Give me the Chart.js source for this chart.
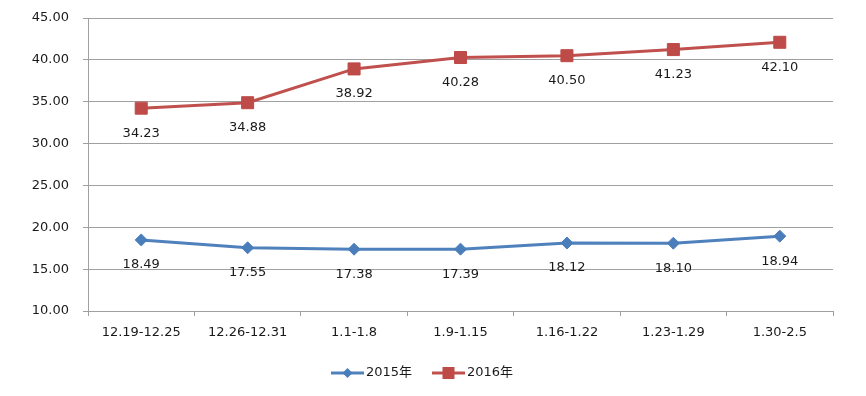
<!DOCTYPE html>
<html>
<head>
<meta charset="utf-8">
<script src="https://cdn.jsdelivr.net/npm/chart.js@4/dist/chart.umd.min.js"></script>
<style>
  html, body { margin: 0; padding: 0; background: #fff; }
  #wrap { width: 866px; height: 396px; position: relative; }
</style>
</head>
<body>
<div id="wrap"><canvas id="myChart" width="866" height="396"></canvas></div>
<script>
// week ranges on the x axis
var weeks = ['12.19-12.25', '12.26-12.31', '1.1-1.8', '1.9-1.15', '1.16-1.22', '1.23-1.29', '1.30-2.5'];
var values2015 = [18.49, 17.55, 17.38, 17.39, 18.12, 18.10, 18.94];
var values2016 = [34.23, 34.88, 38.92, 40.28, 40.50, 41.23, 42.10];
var seriesNames = ['2015年', '2016年'];
var yMin = 10, yMax = 45, yStep = 5;

var textFont = '"DejaVu Sans", Verdana, "Noto Sans CJK SC", sans-serif';
var blue = '#4a7ebb', red = '#be4b48';

// labels under every point
var valueLabels = {
    id: 'valueLabels',
    afterDatasetsDraw: function(chart) {
        var ctx = chart.ctx;
        ctx.save();
        ctx.font = '13px ' + textFont;
        ctx.fillStyle = '#1a1a1a';
        ctx.textAlign = 'center';
        ctx.textBaseline = 'middle';
        chart.data.datasets.forEach(function(ds, i) {
            chart.getDatasetMeta(i).data.forEach(function(pt, j) {
                ctx.fillText(ds.data[j].toFixed(2), pt.x, pt.y + 25);
            });
        });
        ctx.restore();
    }
};

// excel-like legend: short line with the marker in the middle
var bottomLegend = {
    id: 'bottomLegend',
    afterDraw: function(chart) {
        var ctx = chart.ctx;
        var y = 373;
        var items = [
            {x: 331, ds: chart.data.datasets[0]},
            {x: 432, ds: chart.data.datasets[1]}
        ];
        ctx.save();
        ctx.font = '13px ' + textFont;
        ctx.textBaseline = 'middle';
        items.forEach(function(it) {
            var ds = it.ds;
            ctx.strokeStyle = ds.borderColor;
            ctx.lineWidth = 3;
            ctx.beginPath();
            ctx.moveTo(it.x, y);
            ctx.lineTo(it.x + 33, y);
            ctx.stroke();
            var cx = it.x + 16.5;
            ctx.fillStyle = ds.pointBackgroundColor;
            if (ds.pointStyle === 'rectRot') {
                ctx.beginPath();
                ctx.moveTo(cx, y - 5);
                ctx.lineTo(cx + 5, y);
                ctx.lineTo(cx, y + 5);
                ctx.lineTo(cx - 5, y);
                ctx.closePath();
                ctx.fill();
            } else {
                ctx.fillRect(cx - 6, y - 6, 12, 12);
            }
            ctx.fillStyle = '#1a1a1a';
            ctx.textAlign = 'left';
            ctx.fillText(ds.label, it.x + 35, y);
        });
        ctx.restore();
    }
};

var config = {
    type: 'line',
    data: {
        labels: weeks,
        datasets: [
            {
                label: seriesNames[0],
                data: values2015,
                borderColor: '#4f81bd',
                borderWidth: 3,
                pointStyle: 'rectRot',
                pointRadius: 6,
                pointBackgroundColor: blue,
                pointBorderColor: blue,
                pointBorderWidth: 1,
                tension: 0
            },
            {
                label: seriesNames[1],
                data: values2016,
                borderColor: '#c0504d',
                borderWidth: 3,
                pointStyle: 'rect',
                pointRadius: 8.5,
                pointBackgroundColor: red,
                pointBorderColor: red,
                pointBorderWidth: 1,
                tension: 0
            }
        ]
    },
    options: {
        responsive: false,
        animation: false,
        devicePixelRatio: 1,
        layout: { autoPadding: false, padding: { left: 0, right: 33, top: 18, bottom: 45 } },
        plugins: {
            legend: { display: false },
            tooltip: { enabled: false }
        },
        scales: {
            x: {
                offset: true,
                grid: {
                    offset: true,
                    drawOnChartArea: false,
                    drawTicks: true,
                    tickLength: 5,
                    color: '#a0a0a0'
                },
                border: { display: true, color: '#a0a0a0' },
                ticks: {
                    color: '#1a1a1a',
                    font: { family: textFont, size: 13 },
                    padding: 9,
                    maxRotation: 0,
                    autoSkip: false
                },
                afterFit: function(scale) { scale.height = 40; }
            },
            y: {
                min: yMin,
                max: yMax,
                grid: { color: '#a0a0a0', tickLength: 5 },
                border: { display: true, color: '#a0a0a0' },
                ticks: {
                    stepSize: yStep,
                    color: '#1a1a1a',
                    font: { family: textFont, size: 13 },
                    padding: 14,
                    callback: function(v) { return Number(v).toFixed(2); }
                },
                afterFit: function(scale) {
                    scale.width = 88;
                    scale.paddingTop = 0;
                    scale.paddingBottom = 0;
                }
            }
        }
    },
    plugins: [valueLabels, bottomLegend]
};

window.onload = function() {
    var ctx = document.getElementById('myChart').getContext('2d');
    window.myLine = new Chart(ctx, config);
};
</script>
</body>
</html>
